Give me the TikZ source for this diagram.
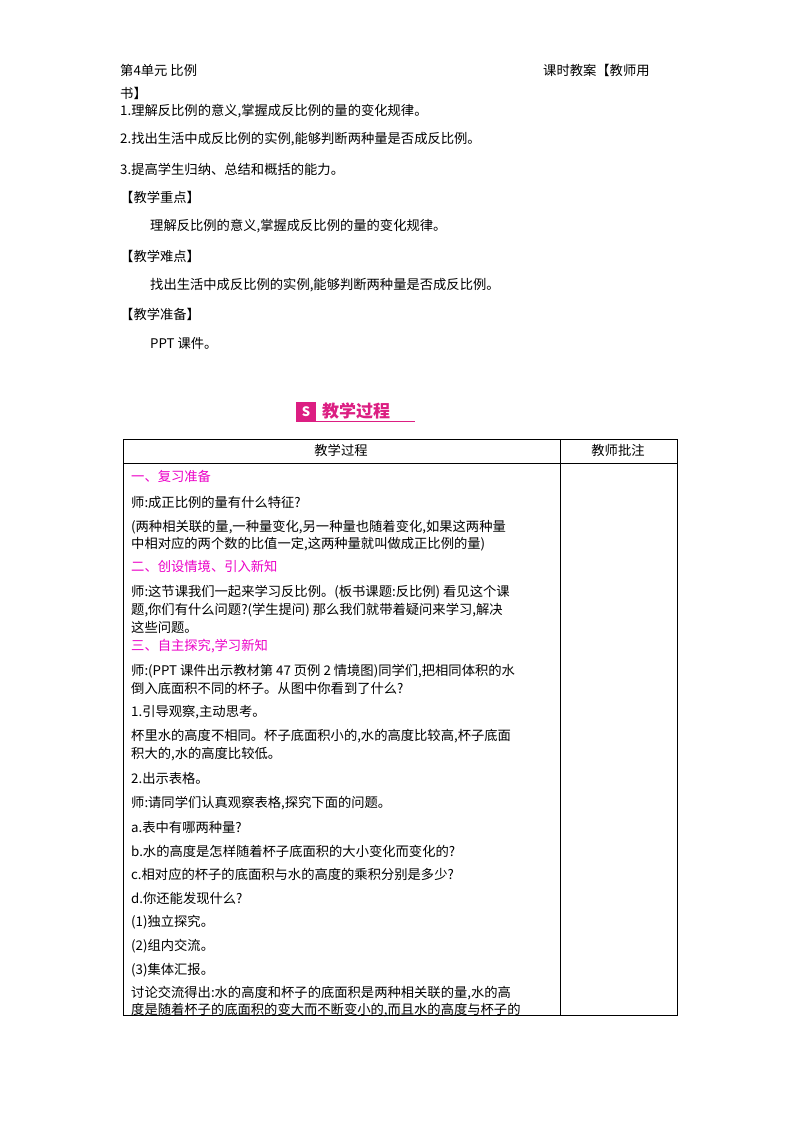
\documentclass[tikz,border=0pt]{standalone}
\usepackage{fontspec}
\setmainfont{Noto Sans CJK SC}
\definecolor{pk}{RGB}{236,0,200}
\definecolor{lg}{RGB}{220,30,130}
\begin{document}
\begin{tikzpicture}[x=1pt,y=-1pt,
  t/.style={anchor=west,inner sep=0pt,font=\fontsize{13.3}{14}\selectfont},
  h/.style={t,text=pk}]
\useasboundingbox (0,0) rectangle (800,1132);
\fill[white] (0,0) rectangle (800,1132);
\node[t] (a1) at (120,70) {第4单元\ 比例};
\node[t] (a2) at (543,70) {课时教案【教师用};
\node[t] (a3) at (120,93) {书】};
\node[t] (b1) at (120,111) {1.理解反比例的意义,掌握成反比例的量的变化规律。};
\node[t] (b2) at (120,139) {2.找出生活中成反比例的实例,能够判断两种量是否成反比例。};
\node[t] (b3) at (120,169) {3.提高学生归纳、总结和概括的能力。};
\node[t] (c1) at (120,197) {【教学重点】};
\node[t] (c2) at (150,226) {理解反比例的意义,掌握成反比例的量的变化规律。};
\node[t] (c3) at (120,256) {【教学难点】};
\node[t] (c4) at (150,285) {找出生活中成反比例的实例,能够判断两种量是否成反比例。};
\node[t] (c5) at (120,314) {【教学准备】};
\node[t] (c6) at (150,343) {PPT 课件。};
% logo
\fill[lg] (296,402) rectangle (316,421);
\node[text=white,font=\bfseries\fontsize{13}{13}\selectfont,inner sep=0pt] (lgs) at (306,411.5) {S};
\node[anchor=west,inner sep=0pt,text=lg,font=\bfseries\fontsize{17}{17}\selectfont] (lgt) at (322,411) {教学过程};
\draw[lg,line width=1.2pt] (296,421.5) -- (415,421.5);
% table
\draw[line width=0.8pt] (123,439) rectangle (677,1015);
\draw[line width=0.6pt] (123,463) -- (677,463);
\draw[line width=0.6pt] (560,439) -- (560,1015);
\node[t,anchor=center] (th1) at (341,450) {教学过程};
\node[t,anchor=center] (th2) at (618,450) {教师批注};
\node[h] (r1) at (131,476) {一、复习准备};
\node[t] (r2) at (131,502) {师:成正比例的量有什么特征?};
\node[t] (r3) at (131,527) {(两种相关联的量,一种量变化,另一种量也随着变化,如果这两种量};
\node[t] (r4) at (131,544) {中相对应的两个数的比值一定,这两种量就叫做成正比例的量)};
\node[h] (r5) at (131,566) {二、创设情境、引入新知};
\node[t] (r6) at (131,592) {师:这节课我们一起来学习反比例。(板书课题:反比例)\ 看见这个课};
\node[t] (r7) at (131,610) {题,你们有什么问题?(学生提问)\ 那么我们就带着疑问来学习,解决};
\node[t] (r8) at (131,627) {这些问题。};
\node[h] (r9) at (131,646) {三、自主探究,学习新知};
\node[t] (r10) at (131,671) {师:(PPT 课件出示教材第 47 页例 2 情境图)同学们,把相同体积的水};
\node[t] (r11) at (131,688) {倒入底面积不同的杯子。从图中你看到了什么?};
\node[t] (r12) at (131,712) {1.引导观察,主动思考。};
\node[t] (r13) at (131,736) {杯里水的高度不相同。杯子底面积小的,水的高度比较高,杯子底面};
\node[t] (r14) at (131,754) {积大的,水的高度比较低。};
\node[t] (r15) at (131,778) {2.出示表格。};
\node[t] (r16) at (131,803) {师:请同学们认真观察表格,探究下面的问题。};
\node[t] (r17) at (131,827) {a.表中有哪两种量?};
\node[t] (r18) at (131,851) {b.水的高度是怎样随着杯子底面积的大小变化而变化的?};
\node[t] (r19) at (131,874) {c.相对应的杯子的底面积与水的高度的乘积分别是多少?};
\node[t] (r20) at (131,898) {d.你还能发现什么?};
\node[t] (r21) at (131,922) {(1)独立探究。};
\node[t] (r22) at (131,946) {(2)组内交流。};
\node[t] (r23) at (131,970) {(3)集体汇报。};
\node[t] (r24) at (131,993) {讨论交流得出:水的高度和杯子的底面积是两种相关联的量,水的高};
\node[t] (r25) at (131,1010) {度是随着杯子的底面积的变大而不断变小的,而且水的高度与杯子的};
\end{tikzpicture}
\end{document}
